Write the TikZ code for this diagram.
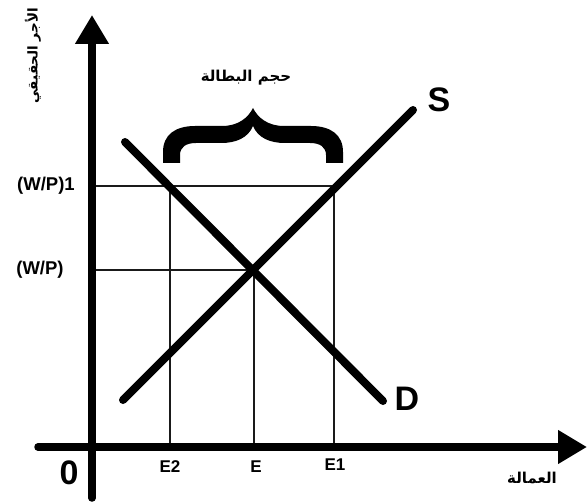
\documentclass[tikz,border=0pt]{standalone}
\usepackage{fontspec}
\setmainfont{Liberation Sans}
\newfontfamily\arabicfont[Script=Arabic]{DejaVu Sans}
\TeXXeTstate=1
\usetikzlibrary{arrows.meta}
\definecolor{ink}{HTML}{000000}
\definecolor{guideink}{HTML}{1A1A1A}
\tikzset{
  axis/.style={line width=7.5pt, draw=ink, line cap=round, -{Triangle[length=29pt,width=32pt]}},
  curve/.style={line width=8pt, draw=ink, line cap=round},
  guide/.style={line width=1.8pt, draw=guideink},
  lab/.style={font=\bfseries\fontsize{17}{19}\selectfont, text=ink, inner sep=0pt},
  wlab/.style={font=\bfseries\fontsize{18.5}{20}\selectfont, text=ink, inner sep=0pt},
  big/.style={font=\bfseries\fontsize{34}{36}\selectfont, text=ink, inner sep=0pt},
  ar/.style={font=\arabicfont\bfseries\fontsize{#1}{17}\selectfont, text=ink, inner sep=0pt},
  ar/.default=15,
}

\begin{document}
\begin{tikzpicture}[x=1pt,y=-1pt]
  \useasboundingbox (0,0) rectangle (588,502);
  % axes end points
  \coordinate (ybot) at (92,498);
  \coordinate (ytop) at (92,15);
  \coordinate (xlft) at (38,447);
  \coordinate (xrgt) at (587,447);
  % supply and demand
  \coordinate (S0) at (123,400);
  \coordinate (S1) at (413,110);
  \coordinate (D0) at (125,142);
  \coordinate (D1) at (383,401);
  \coordinate (eq) at (254,270);
  % guide points
  \coordinate (w0) at (92,270);
  \coordinate (w1) at (92,186);
  \coordinate (e2top) at (170,186);
  \coordinate (e1top) at (334,186);
  \coordinate (e2) at (170,447);
  \coordinate (e0) at (254,447);
  \coordinate (e1) at (334,447);

  \draw[guide] (w1) -- (e1top) -- (e1);
  \draw[guide] (e2top) -- (e2);
  \draw[guide] (w0) -- (eq) -- (e0);

  \draw[curve] (S0) -- (S1);
  \draw[curve] (D0) -- (D1);

  \draw[axis] (ybot) -- (ytop);
  \draw[axis] (xlft) -- (xrgt);

  % unemployment brace
  \fill[ink] (163,163) -- (163,152)
    .. controls (163,135) and (175,126) .. (195,126) -- (222,126)
    .. controls (238,126) and (248,118) .. (253,108)
    .. controls (258,118) and (268,126) .. (284,126) -- (311,126)
    .. controls (331,126) and (343,135) .. (343,152) -- (343,163) -- (326,163) -- (326,155)
    .. controls (326,147) and (320,143) .. (310,143) -- (285,143)
    .. controls (270,143) and (258,138) .. (253,126)
    .. controls (248,138) and (236,143) .. (221,143) -- (196,143)
    .. controls (186,143) and (180,147) .. (180,155) -- (180,163) -- cycle;

  \node[lab] (lE2) at (170,467) {E2};
  \node[lab] (lE) at (256,467) {E};
  \node[lab] (lE1) at (335,465) {E1};
  \node[wlab] (lw1) at (46,186) {(W/P)1};
  \node[wlab] (lw0) at (40,270) {(W/P)};
  \node[big] (lS) at (439,100) {S};
  \node[big] (lD) at (407,399) {D};
  \node[big] (l0) at (69,473) {0};
  \node[ar] (lgap) at (246,78) {\beginR حجم البطالة\endR};
  \node[ar] (lx) at (532,478) {\beginR العمالة\endR};
  \node[ar=13.5, rotate=90] (ly) at (33,56) {\beginR الأجر الحقيقي\endR};
\end{tikzpicture}
\end{document}
